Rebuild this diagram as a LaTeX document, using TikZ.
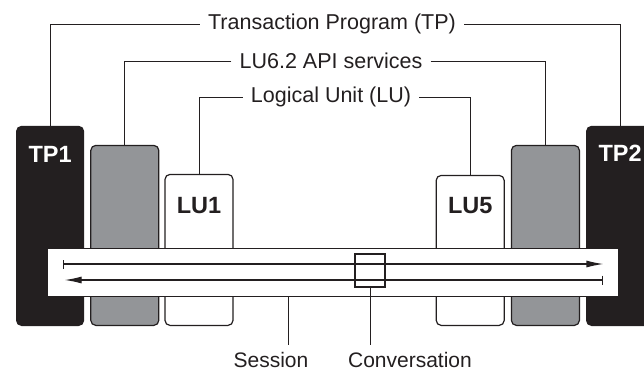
\documentclass[tikz,border=0pt]{standalone}
\usepackage{fontspec}
\setmainfont{Liberation Sans}
\usetikzlibrary{arrows.meta,positioning}

\definecolor{ink}{HTML}{231F20}
\definecolor{apigrey}{HTML}{939598}

\begin{document}
\begin{tikzpicture}[x=1pt,y=-1pt,
    unit/.style={draw=ink,line width=1.2pt,rounded corners=5pt,inner sep=0pt,
      minimum width=68pt,anchor=south west},
    tpbox/.style={unit,fill=ink,minimum width=67pt,minimum height=199pt},
    apibox/.style={unit,fill=apigrey,minimum height=180pt},
    lubox/.style={unit,fill=white,minimum height=151pt},
    boxlabel/.style={inner sep=0pt,font=\fontsize{23.5}{28}\selectfont\bfseries},
    title/.style={inner xsep=8pt,inner ysep=0pt,text=ink,font=\fontsize{21.5}{26}\selectfont},
    note/.style={anchor=north,inner sep=0pt,text=ink,font=\fontsize{21}{25}\selectfont},
    leader/.style={draw=ink,line width=1pt},
    flow/.style={draw=ink,line width=1.2pt,{Bar[width=9pt]}-{Latex[length=17pt,width=7pt]}}]
  \useasboundingbox (0,0) rectangle (644,372);

  % left end
  \node[tpbox] (tp1) at (16,326) {};
  \node[apibox,right=6pt of tp1.south east,anchor=south west] (api1) {};
  \node[lubox,right=5pt of api1.south east,anchor=south west] (lu1) {};
  % right end
  \node[tpbox] (tp2) at (586,326) {};
  \node[apibox,left=6pt of tp2.south west,anchor=south east] (api2) {};
  \node[lubox,left=6pt of api2.south west,anchor=south east,minimum height=150pt] (lu5) {};

  \node[boxlabel,text=white,below=20pt of tp1.north] {TP1};
  \node[boxlabel,text=white,below=19pt of tp2.north] {TP2};
  \node[boxlabel,text=ink,below=23pt of lu1.north] {LU1};
  \node[boxlabel,text=ink,below=22pt of lu5.north] {LU5};

  % session band
  \node[draw=ink,line width=0.8pt,fill=white,minimum width=571pt,minimum height=48pt,
    inner sep=0pt] (session) at (332.5,272) {};
  \coordinate (fwd-a) at ([xshift=16pt,yshift=8pt]session.west);
  \coordinate (fwd-b) at ([xshift=-15pt,yshift=8pt]session.east);
  \coordinate (bwd-a) at ([xshift=-15pt,yshift=-8pt]session.east);
  \coordinate (bwd-b) at ([xshift=18pt,yshift=-8pt]session.west);
  \draw[flow] (fwd-a) -- (fwd-b);
  \draw[flow] (bwd-a) -- (bwd-b);
  \node[draw=ink,line width=1.2pt,minimum width=30pt,minimum height=33pt,inner sep=0pt]
    (conv) at (370,270.5) {};

  % top labels
  \node[title] (tp) at (332,24) {Transaction Program (TP)};
  \node[title] (api) at (331,61) {LU6.2 API services};
  \node[title] (lu) at (331,97) {Logical Unit (LU)};
  \draw[leader] (tp.west) -| (tp1.north);
  \draw[leader] (tp.east) -| (tp2.north);
  \draw[leader] (api.west) -| (api1.north);
  \draw[leader] (api.east) -| (api2.north);
  \draw[leader] (lu.west) -| (lu1.north);
  \draw[leader] (lu.east) -| (lu5.north);

  % bottom labels
  \node[note] (sess) at (271,352) {Session};
  \node[note] (convl) at (410,352) {Conversation};
  \coordinate (sessx) at (288,0);
  \coordinate (notes-top) at ([yshift=7pt]sess.north);
  \draw[leader] (session.south -| sessx) -- (notes-top -| sessx);
  \draw[leader] (conv.south) -- (conv.south |- notes-top);
\end{tikzpicture}
\end{document}
